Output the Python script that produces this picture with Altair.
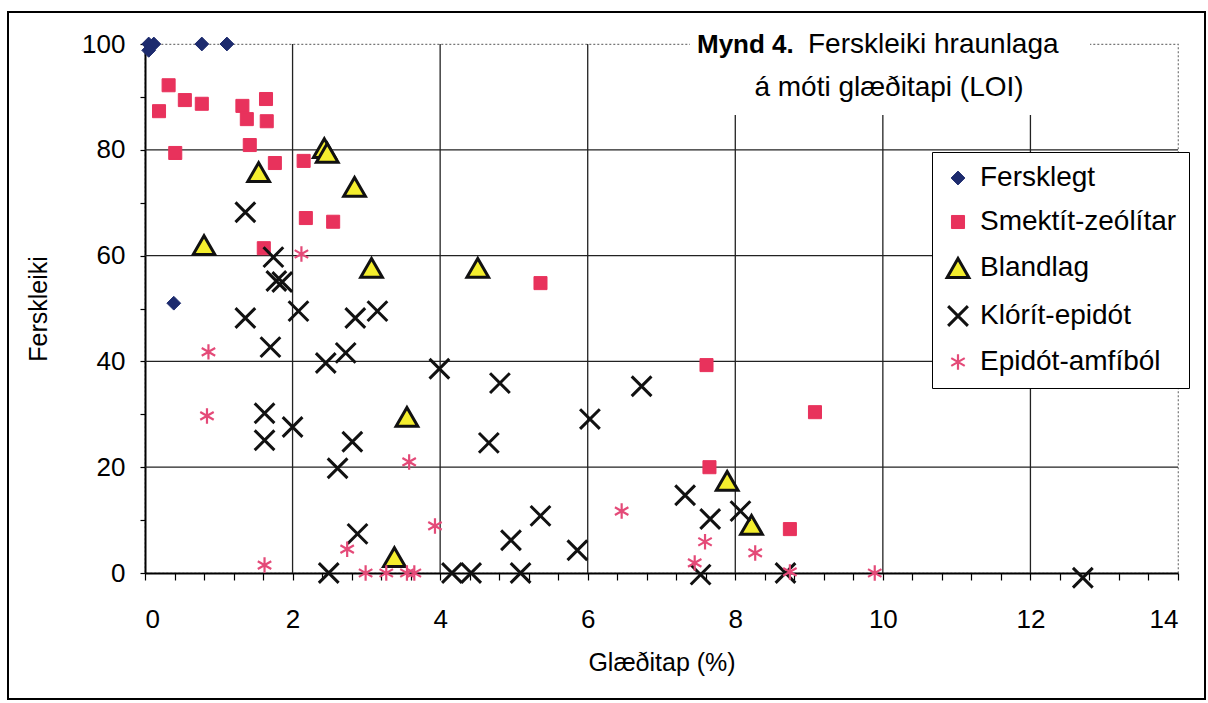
import altair as alt
import pandas as pd

FONT = "Liberation Sans"

series_names = ["Fersklegt", "Smektít-zeólítar", "Blandlag", "Klórít-epidót", "Epidót-amfíból"]

fersk_x = [0.05, 0.12, 0.05, 0.77, 1.11, 0.39]
fersk_y = [100, 100, 98.8, 100, 100, 51]

smek_x = [0.32, 0.19, 0.54, 0.77, 1.32, 1.64, 1.38, 1.65, 0.41, 1.42, 1.76, 2.15,
          2.18, 2.55, 1.61, 5.36, 7.61, 9.08, 7.65, 8.74]
smek_y = [92.2, 87.3, 89.4, 88.7, 88.3, 89.6, 85.8, 85.4, 79.4, 80.9, 77.5, 77.9,
          67.1, 66.4, 61.4, 54.8, 39.3, 30.4, 20.0, 8.3]

bland_x = [2.43, 2.47, 1.54, 2.84, 0.80, 3.07, 4.51, 3.55, 3.38, 7.89, 8.22]
bland_y = [80.3, 79.4, 75.8, 73.0, 62.0, 57.7, 57.7, 29.5, 3.0, 17.4, 9.1]

klor_x = [1.36, 1.74, 1.78, 1.86, 2.08, 1.36, 2.85, 3.15, 1.70, 2.45, 2.72, 3.99,
          1.62, 1.62, 2.00, 2.81, 2.61, 2.88, 2.49, 4.81, 4.66, 6.73, 6.03, 5.36,
          4.96, 5.86, 4.16, 4.42, 5.09, 7.53, 7.32, 7.66, 8.07, 8.68, 12.71]
klor_y = [68.2, 59.7, 55.2, 55.0, 49.5, 48.2, 48.2, 49.5, 42.7, 39.7, 41.6, 38.6,
          30.2, 25.1, 27.6, 24.8, 19.8, 7.4, 0.0, 35.9, 24.6, 35.3, 29.1, 10.8,
          6.2, 4.3, 0.0, 0.0, 0.0, -0.3, 14.7, 10.2, 11.7, 0.0, -0.9]

epi_x = [2.12, 0.86, 0.84, 3.58, 3.93, 2.74, 1.62, 2.99, 3.27, 3.55, 3.65,
         6.46, 7.59, 7.45, 8.27, 8.74, 9.89]
epi_y = [60.3, 41.8, 29.7, 21.0, 8.9, 4.5, 1.5, 0.0, 0.0, 0.0, 0.0,
         11.7, 5.9, 1.9, 3.8, 0.2, 0.0]

x_grid = [2, 4, 6, 8, 10, 12]
y_grid = [20, 40, 60, 80]
x_tick_values = [round(0.4 * k, 1) for k in range(36)]
y_tick_values = list(range(0, 101, 10))

shape_range = [
    "diamond",
    "square",
    "triangle-up",
    "M-1,-1L1,1M1,-1L-1,1",
    "M0,-1L0,1M-0.87,-0.5L0.87,0.5M-0.87,0.5L0.87,-0.5",
]
fill_range = ["#1d2b6e", "#e8325c", "#f4ee2e", "transparent", "transparent"]
stroke_range = ["#1d2b6e", "#e8325c", "#111111", "#111111", "#e44a78"]
size_range = [190, 170, 470, 390, 240]
sw_range = [1, 1, 3, 3, 2.2]

rows = []
for name, xs, ys in zip(series_names,
                        [fersk_x, smek_x, bland_x, klor_x, epi_x],
                        [fersk_y, smek_y, bland_y, klor_y, epi_y]):
    for a, b in zip(xs, ys):
        rows.append({"loi": a, "fersk": b, "series": name})
df = pd.DataFrame(rows)

xscale = alt.Scale(domain=[0, 14], nice=False, zero=True)
yscale = alt.Scale(domain=[0, 100], nice=False)

legend = alt.Legend(
    title=None, orient="none", legendX=787, legendY=108,
    fillColor="white", strokeColor="black", padding=12,
    labelFont=FONT, labelFontSize=28, labelColor="black", labelLimit=400,
    rowPadding=16, labelOffset=8, symbolOpacity=1,
)

x_axis = alt.Axis(
    values=x_tick_values, grid=False, tickSize=7, tickColor="black", tickWidth=1.2,
    labelExpr="datum.value % 2 == 0 ? format(datum.value, 'd') : ''",
    labelFont=FONT, labelFontSize=26, labelColor="black", labelPadding=26,
    labelOverlap=False, domainColor="black", domainWidth=2,
    title="Glæðitap (%)", titleFont=FONT, titleFontSize=25, titleFontWeight="normal",
    titleColor="black", titlePadding=18,
)
y_axis = alt.Axis(
    values=y_tick_values, grid=False, tickSize=5, tickColor="black", tickWidth=1.2,
    labelExpr="datum.value % 20 == 0 ? datum.label : ''",
    labelFont=FONT, labelFontSize=26, labelColor="black", labelPadding=15,
    labelOverlap=False, domainColor="black", domainWidth=2,
    title="Ferskleiki", titleFont=FONT, titleFontSize=25, titleFontWeight="normal",
    titleColor="black", titlePadding=30,
)

vgrid = alt.Chart(pd.DataFrame({"g": x_grid})).mark_rule(color="#222222", strokeWidth=1.3).encode(
    x=alt.X("g:Q", scale=xscale, axis=x_axis), y=alt.value(0), y2=alt.value(529))
hgrid = alt.Chart(pd.DataFrame({"g": y_grid})).mark_rule(color="#222222", strokeWidth=1.3).encode(
    y=alt.Y("g:Q", scale=yscale, axis=y_axis), x=alt.value(0), x2=alt.value(1033))

title_box = alt.Chart(pd.DataFrame({"a": [0]})).mark_rect(fill="white").encode(
    x=alt.value(545), x2=alt.value(945), y=alt.value(-19), y2=alt.value(71))

t1 = alt.Chart(pd.DataFrame({"t": ["Mynd 4."]})).mark_text(
    font=FONT, fontSize=26, fontWeight="bold", align="left", baseline="alphabetic", color="black"
).encode(text="t:N", x=alt.value(552), y=alt.value(9))
t2 = alt.Chart(pd.DataFrame({"t": ["Ferskleiki hraunlaga"]})).mark_text(
    font=FONT, fontSize=28, align="left", baseline="alphabetic", color="black"
).encode(text="t:N", x=alt.value(663), y=alt.value(9))
t3 = alt.Chart(pd.DataFrame({"t": ["á móti glæðitapi (LOI)"]})).mark_text(
    font=FONT, fontSize=28, align="center", baseline="alphabetic", color="black"
).encode(text="t:N", x=alt.value(744), y=alt.value(52))

points = alt.Chart(df).mark_point(filled=True, opacity=1).encode(
    x=alt.X("loi:Q", scale=xscale, axis=x_axis),
    y=alt.Y("fersk:Q", scale=yscale, axis=y_axis),
    shape=alt.Shape("series:N", scale=alt.Scale(domain=series_names, range=shape_range), legend=legend),
    fill=alt.Fill("series:N", scale=alt.Scale(domain=series_names, range=fill_range), legend=legend),
    stroke=alt.Stroke("series:N", scale=alt.Scale(domain=series_names, range=stroke_range), legend=legend),
    size=alt.Size("series:N", scale=alt.Scale(type="ordinal", domain=series_names, range=size_range), legend=legend),
    strokeWidth=alt.StrokeWidth("series:N", scale=alt.Scale(type="ordinal", domain=series_names, range=sw_range), legend=legend),
)

frame = alt.Chart(pd.DataFrame({"a": [0]})).mark_rect(
    fill="transparent", stroke="black", strokeWidth=2
).encode(x=alt.value(-137), x2=alt.value(1060), y=alt.value(-32), y2=alt.value(655))

chart = alt.layer(vgrid, hgrid, title_box, t1, t2, t3, points, frame).properties(
    width=1033, height=529,
    autosize=alt.AutoSizeParams(type="none"),
    padding={"left": 145, "top": 44, "right": 30, "bottom": 130},
    background="white",
).configure_view(
    stroke="#777777", strokeDash=[2, 2], strokeWidth=1.2
)

chart.save("out.html", embed_options={"renderer": "svg", "actions": False})
